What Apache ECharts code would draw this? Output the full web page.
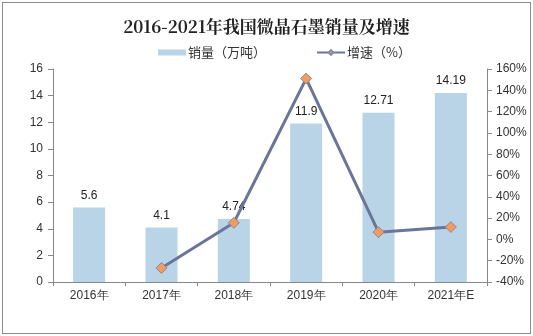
<!DOCTYPE html>
<html><head><meta charset="utf-8">
<script src="https://cdn.jsdelivr.net/npm/echarts@6/dist/echarts.min.js"></script>
<style>
html,body{margin:0;padding:0;background:#fff;}
#frame{position:absolute;left:2px;top:2px;width:527px;height:330px;border:1px solid #8c8c8c;}
#c{position:absolute;left:0;top:0;width:533px;height:336px;}
</style></head><body>
<div id="frame"></div>
<div id="c"></div>
<script>
const categories = ['2016年','2017年','2018年','2019年','2020年','2021年E'];
const sales = [5.6, 4.1, 4.74, 11.9, 12.71, 14.19];
const growth = [null, -26.8, 15.6, 151, 6.8, 11.6];
const leftTicks = {min:0, max:16, interval:2};
const rightTicks = {min:-40, max:160, interval:20};

const chart = echarts.init(document.getElementById('c'));
const axisFont = {fontFamily:'Liberation Sans, Arial, sans-serif', fontSize:12, color:'#333'};
chart.setOption({
  animation:false,
  title:{text:'2016-2021年我国微晶石墨销量及增速', left:'center', top:13,
    textStyle:{fontFamily:'Noto Serif CJK SC, Noto Sans CJK SC, serif', fontSize:17, fontWeight:'bold', color:'#222'}},
  legend:{top:41, left:153, itemGap:50, itemWidth:28, itemHeight:6,
    textStyle:{fontFamily:'Noto Sans CJK SC', fontSize:13, color:'#333', padding:[0,0,0,-3]},
    data:[{name:'销量（万吨）', icon:'rect'},{name:'增速（%）'}]},
  grid:{left:53, right:46, top:69, bottom:54},
  xAxis:{type:'category', data:categories,
    axisLine:{lineStyle:{color:'#888'}},
    axisTick:{show:true, alignWithLabel:false, lineStyle:{color:'#888'}, length:4},
    axisLabel:Object.assign({margin:8}, axisFont)},
  yAxis:[
    {type:'value', min:leftTicks.min, max:leftTicks.max, interval:leftTicks.interval,
      splitLine:{show:false}, axisLine:{show:true, lineStyle:{color:'#888'}},
      axisTick:{show:true, length:5, lineStyle:{color:'#888'}},
      axisLabel:Object.assign({margin:10}, axisFont)},
    {type:'value', min:rightTicks.min, max:rightTicks.max, interval:rightTicks.interval,
      splitLine:{show:false}, axisLine:{show:true, lineStyle:{color:'#888'}},
      axisTick:{show:true, length:5, lineStyle:{color:'#888'}},
      axisLabel:Object.assign({margin:9, formatter:'{value}%'}, axisFont)}
  ],
  series:[
    {name:'销量（万吨）', type:'bar', data:sales, barWidth:32, yAxisIndex:0,
      itemStyle:{color:'#B8D4E6'},
      label:{show:true, position:'top', distance:6, fontFamily:'Liberation Sans, Arial, sans-serif', fontSize:12, color:'#222'}},
    {name:'增速（%）', type:'line', data:growth, yAxisIndex:1,
      connectNulls:false,
      lineStyle:{color:'#6B7499', width:3},
      symbol:'diamond', symbolSize:11,
      itemStyle:{color:'#F29B5C', borderColor:'#8a8aa0', borderWidth:1}}
  ]
});
</script>
</body></html>
